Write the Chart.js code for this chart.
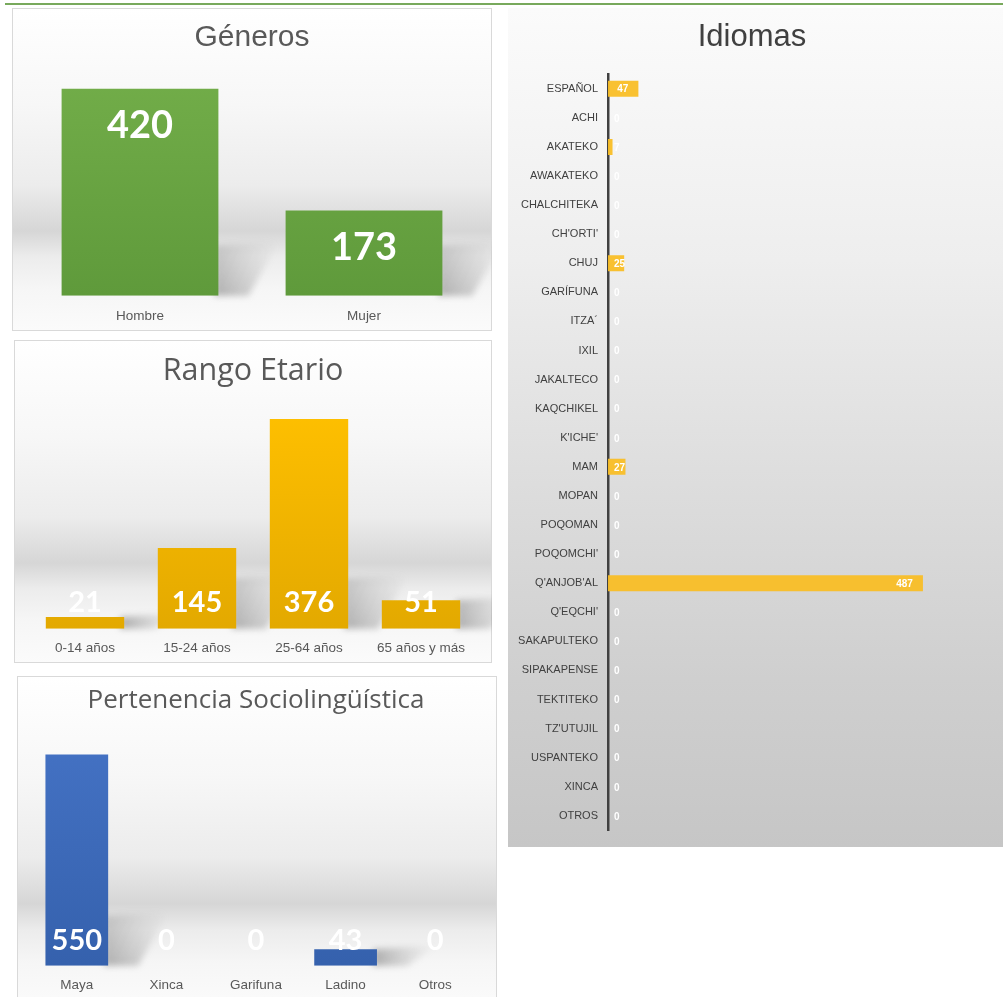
<!DOCTYPE html>
<html>
<head>
<meta charset="utf-8">
<script src="https://cdn.jsdelivr.net/npm/chart.js@4.4.1/dist/chart.umd.min.js"></script>
<style>
  html, body { margin: 0; padding: 0; background: #ffffff; }
  body { width: 1003px; height: 997px; position: relative; overflow: hidden; }
  .topline { position: absolute; left: 5px; top: 3px; width: 998px; height: 2px; background: #78a95c; }
  .panel { position: absolute; outline: 1px solid #d9d9d9; outline-offset: -1px;
    background: linear-gradient(to bottom, #ffffff 0%, #f7f7f7 30%, #ececec 55%, #d6d6d6 69%, #ececec 77%, #f6f6f6 87%, #fbfbfb 100%); }
  .panel canvas { position: absolute; left: 0; top: 0; }
  #pIdiomas { outline: none; background: linear-gradient(to bottom, #fbfbfb 0%, #eeeeee 30%, #dedede 55%, #cfcfcf 80%, #c6c6c6 100%); }
</style>
</head>
<body>
<div class="topline"></div>
<div class="panel" id="pGenero" style="left:12px;top:8px;width:480px;height:323px;"><canvas id="cGenero" width="480" height="323"></canvas></div>
<div class="panel" id="pEdad" style="left:14px;top:340px;width:478px;height:323px;"><canvas id="cEdad" width="478" height="323"></canvas></div>
<div class="panel" id="pSocio" style="left:17px;top:676px;width:480px;height:330px;"><canvas id="cSocio" width="480" height="330"></canvas></div>
<div class="panel" id="pIdiomas" style="left:508px;top:8px;width:495px;height:839px;"><canvas id="cIdiomas" width="495" height="839"></canvas></div>
<script>
// ---- Data ----
const generoLabels = ['Hombre', 'Mujer'];
const generoValues = [420, 173];

const edadLabels = ['0-14 años', '15-24 años', '25-64 años', '65 años y más'];
const edadValues = [21, 145, 376, 51];

const socioLabels = ['Maya', 'Xinca', 'Garifuna', 'Ladino', 'Otros'];
const socioValues = [550, 0, 0, 43, 0];

const idiomaLabels = ['ESPAÑOL', 'ACHI', 'AKATEKO', 'AWAKATEKO', 'CHALCHITEKA', "CH'ORTI'", 'CHUJ', 'GARÍFUNA',
  'ITZA´', 'IXIL', 'JAKALTECO', 'KAQCHIKEL', "K'ICHE'", 'MAM', 'MOPAN', 'POQOMAN', "POQOMCHI'", "Q'ANJOB'AL",
  "Q'EQCHI'", 'SAKAPULTEKO', 'SIPAKAPENSE', 'TEKTITEKO', "TZ'UTUJIL", 'USPANTEKO', 'XINCA', 'OTROS'];
const idiomaValues = [47, 0, 7, 0, 0, 0, 25, 0, 0, 0, 0, 0, 0, 27, 0, 0, 0, 487, 0, 0, 0, 0, 0, 0, 0, 0];

// ---- Plugins ----
const valueLabels = {
  id: 'valueLabels',
  afterDatasetsDraw(chart, args, opts) {
    if (!opts || !opts.mode) return;
    const ctx = chart.ctx;
    const meta = chart.getDatasetMeta(0);
    const data = chart.data.datasets[0].data;
    ctx.save();
    ctx.font = opts.font;
    ctx.fillStyle = opts.color;
    ctx.textBaseline = 'middle';
    meta.data.forEach((bar, i) => {
      const txt = String(data[i]);
      if (opts.mode === 'top') {
        ctx.textAlign = 'center';
        ctx.fillText(txt, bar.x, bar.y + opts.offset);
      } else if (opts.mode === 'base') {
        ctx.textAlign = 'center';
        ctx.fillText(txt, bar.x, bar.base - opts.offset);
      } else if (opts.mode === 'hEnd') {
        const w = ctx.measureText(txt).width;
        const right = Math.max(bar.x - opts.offset, bar.base + opts.minGap + w);
        ctx.textAlign = 'right';
        ctx.fillText(txt, right, bar.y + 1);
      }
    });
    ctx.restore();
  }
};

const barShadow = {
  id: 'barShadow',
  beforeDatasetsDraw(chart, args, opts) {
    if (!opts || !opts.enabled) return;
    const ctx = chart.ctx;
    const meta = chart.getDatasetMeta(0);
    ctx.save();
    meta.data.forEach((bar) => {
      const h = bar.base - bar.y;
      if (h < 5) return;
      const half = bar.width / 2;
      const right = bar.x + half;
      const sh = Math.min(h, 50);
      const g = ctx.createLinearGradient(right, bar.base, right + 60, bar.base - sh);
      g.addColorStop(0, 'rgba(90,90,90,0.45)');
      g.addColorStop(1, 'rgba(150,150,150,0)');
      ctx.fillStyle = g;
      ctx.filter = 'blur(3px)';
      ctx.beginPath();
      ctx.moveTo(right - 4, bar.base);
      ctx.lineTo(right - 4, bar.base - sh);
      ctx.lineTo(right + 60, bar.base - sh - 4);
      ctx.lineTo(right + 30, bar.base);
      ctx.closePath();
      ctx.fill();
    });
    ctx.restore();
  }
};

Chart.register(valueLabels, barShadow);
Chart.defaults.font.family = "'Liberation Sans', Arial, sans-serif";

function vGradient(top, bottom) {
  return (c) => {
    const area = c.chart.chartArea;
    if (!area) return top;
    const g = c.chart.ctx.createLinearGradient(0, area.top, 0, area.bottom);
    g.addColorStop(0, top);
    g.addColorStop(1, bottom);
    return g;
  };
}

function columnChart(id, labels, values, opt) {
  return new Chart(document.getElementById(id), {
    type: 'bar',
    data: {
      labels: labels,
      datasets: [{ data: values, backgroundColor: vGradient(opt.c1, opt.c2), borderWidth: 0,
        categoryPercentage: 0.7, barPercentage: 1 }]
    },
    options: {
      responsive: false, animation: false, devicePixelRatio: 1,
      layout: { padding: opt.padding },
      plugins: {
        legend: { display: false }, tooltip: { enabled: false },
        title: { display: true, text: opt.title, color: '#595959',
          font: { family: opt.titleFont, size: opt.titleSize, weight: 'normal' },
          padding: opt.titlePad },
        valueLabels: opt.labels,
        barShadow: { enabled: true }
      },
      scales: {
        x: { grid: { display: false, drawTicks: false }, border: { display: false },
          ticks: { color: '#595959', padding: opt.tickPad, font: { size: 13.5, family: "'Liberation Sans', Arial, sans-serif" } } },
        y: { display: false, min: 0, max: opt.max }
      }
    }
  });
}

columnChart('cGenero', generoLabels, generoValues, {
  c1: '#72ad49', c2: '#5f9a3b', title: 'Géneros', titleFont: "'Liberation Sans', Arial, sans-serif", titleSize: 30,
  titlePad: { top: 12, bottom: 18 }, padding: { left: 16, right: 16, top: 0, bottom: -5 }, tickPad: 12, max: 450,
  labels: { mode: 'top', offset: 37, font: "bold 38px Lato, 'Open Sans', sans-serif", color: '#ffffff' }
});

columnChart('cEdad', edadLabels, edadValues, {
  c1: '#ffc000', c2: '#e3a900', title: 'Rango Etario', titleFont: "'Open Sans', Lato, sans-serif", titleSize: 30.5,
  titlePad: { top: 13, bottom: 16 }, padding: { left: 15, right: 15, top: 0, bottom: -4 }, tickPad: 11, max: 400,
  labels: { mode: 'base', offset: 26, font: "bold 29px Lato, 'Open Sans', sans-serif", color: '#ffffff' }
});

columnChart('cSocio', socioLabels, socioValues, {
  c1: '#4472c4', c2: '#3561ad', title: 'Pertenencia Sociolingüística', titleFont: "'Open Sans', Lato, sans-serif", titleSize: 26,
  titlePad: { top: 9, bottom: 19 }, padding: { left: 15, right: 17, top: 0, bottom: 2 }, tickPad: 11, max: 600,
  labels: { mode: 'base', offset: 25, font: "bold 29px Lato, 'Open Sans', sans-serif", color: '#ffffff' }
});

new Chart(document.getElementById('cIdiomas'), {
  type: 'bar',
  data: {
    labels: idiomaLabels,
    datasets: [{ data: idiomaValues, backgroundColor: 'rgba(249,190,38,0.95)', borderWidth: 0,
      categoryPercentage: 0.55, barPercentage: 1 }]
  },
  options: {
    indexAxis: 'y',
    responsive: false, animation: false, devicePixelRatio: 1,
    layout: { padding: { left: 0, right: 7, top: 0, bottom: 16 } },
    plugins: {
      legend: { display: false }, tooltip: { enabled: false },
      title: { display: true, text: 'Idiomas', color: '#404040',
        font: { family: "'Liberation Sans', Arial, sans-serif", size: 31, weight: 'normal' },
        padding: { top: 11, bottom: 18 } },
      valueLabels: { mode: 'hEnd', offset: 10, minGap: 6, font: "bold 10px 'Liberation Sans', Arial, sans-serif", color: '#ffffff' }
    },
    scales: {
      y: {
        afterFit(scale) { scale.width = 100; },
        grid: { display: false, drawTicks: false },
        border: { display: true, color: '#404040', width: 2.5 },
        ticks: { color: '#404040', padding: 10, autoSkip: false, font: { size: 11 } }
      },
      x: { display: false, min: 0, max: 600 }
    }
  }
});
</script>
</body>
</html>
